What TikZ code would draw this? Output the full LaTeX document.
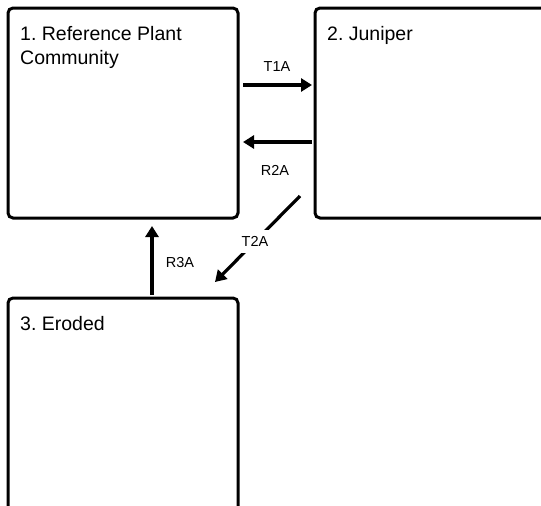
\documentclass[tikz,border=0pt]{standalone}
\usepackage{fontspec}
\setmainfont{Liberation Sans}
\usetikzlibrary{arrows.meta}
\frenchspacing
\begin{document}
\begin{tikzpicture}[x=1pt,y=-1pt,
  statebox/.style={draw=black,line width=3pt,rounded corners=5pt,rectangle,inner sep=0pt,outer sep=0pt,fill=white},
  boxtext/.style={anchor=north west,align=left,inner sep=0pt,font=\fontsize{19.5}{24.5}\selectfont},
  arr/.style={line width=3.2pt,-{Triangle[length=11pt,width=13pt]}},
  lbl/.style={font=\fontsize{14.5}{17}\selectfont,inner sep=1pt}]
\useasboundingbox (0,0) rectangle (541,506);
\clip (0,0) rectangle (541,506);
\node[statebox,minimum width=230pt,minimum height=210pt] (b1) at (123,113) {};
\node[statebox,minimum width=250pt,minimum height=210pt] (b2) at (440,113) {};
\node[statebox,minimum width=230pt,minimum height=232pt] (b3) at (123,414) {};
\node[boxtext] (t1) at (20,25.7) {1. Reference Plant\\Community};
\node[boxtext] (t2) at (327,25.7) {2. Juniper};
\node[boxtext] (t3) at (20,315.7) {3. Eroded};
\draw[arr] ([shift={(5,77)}]b1.north east) -- ([shift={(-3,77)}]b2.north west);
\draw[arr] ([shift={(-3,134)}]b2.north west) -- ([shift={(5,134)}]b1.north east);
\draw[arr] ([shift={(-15,-22)}]b2.south west) -- node[lbl,fill=white,inner sep=6.5pt,pos=0.53] (l3) {T2A} ([shift={(-23,-16)}]b3.north east);
\draw[arr] ([shift={(29,-3)}]b3.north) -- ([shift={(29,8)}]b1.south);
\node[lbl] (l1) at (277,67) {T1A};
\node[lbl] (l2) at (275,170) {R2A};
\node[lbl] (l4) at (180,263) {R3A};
\end{tikzpicture}
\end{document}
